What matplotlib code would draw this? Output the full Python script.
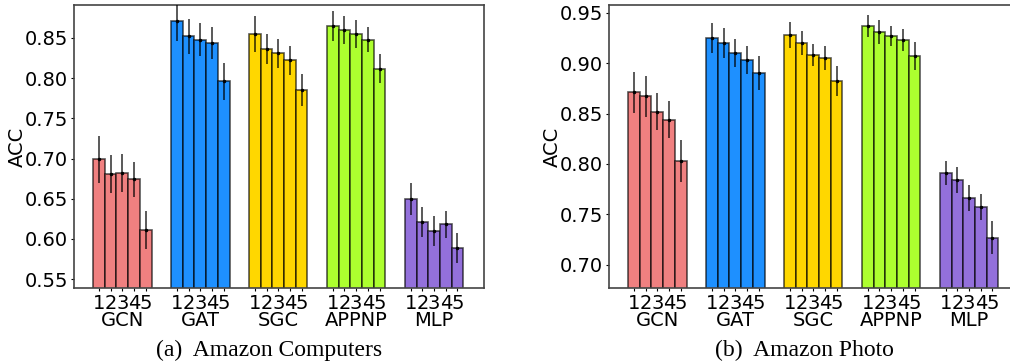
import numpy as np
import matplotlib
matplotlib.use("Agg")
import matplotlib.pyplot as plt
import matplotlib.transforms as mtransforms

models = ["GCN", "GAT", "SGC", "APPNP", "MLP"]
layers = ["1", "2", "3", "4", "5"]
colors = ["#F08080", "#1E90FF", "#FFD700", "#ADFF2F", "#9370DB"]

# Amazon Computers
comp_acc = [
    [0.699, 0.681, 0.682, 0.674, 0.611],
    [0.871, 0.852, 0.848, 0.844, 0.796],
    [0.855, 0.836, 0.831, 0.822, 0.785],
    [0.865, 0.860, 0.855, 0.848, 0.812],
    [0.650, 0.621, 0.610, 0.618, 0.589],
]
comp_err = [
    [0.029, 0.024, 0.024, 0.022, 0.024],
    [0.025, 0.022, 0.021, 0.020, 0.023],
    [0.022, 0.019, 0.018, 0.018, 0.020],
    [0.019, 0.017, 0.017, 0.016, 0.018],
    [0.020, 0.019, 0.019, 0.017, 0.019],
]

# Amazon Photo
photo_acc = [
    [0.871, 0.867, 0.852, 0.844, 0.803],
    [0.925, 0.920, 0.910, 0.903, 0.890],
    [0.928, 0.920, 0.908, 0.905, 0.882],
    [0.937, 0.931, 0.927, 0.923, 0.907],
    [0.791, 0.784, 0.766, 0.757, 0.727],
]
photo_err = [
    [0.020, 0.020, 0.018, 0.018, 0.021],
    [0.015, 0.015, 0.014, 0.014, 0.017],
    [0.013, 0.012, 0.011, 0.012, 0.015],
    [0.011, 0.012, 0.010, 0.011, 0.014],
    [0.012, 0.013, 0.013, 0.013, 0.016],
]

bar_w = 0.15
fs = 14

fig = plt.figure(figsize=(10.1, 3.64), dpi=100)
ax1 = fig.add_axes([74 / 1010, 76 / 364, 410 / 1010, 283 / 364])
ax2 = fig.add_axes([609 / 1010, 76 / 364, 410 / 1010, 283 / 364])


def draw(ax, acc, err, ylim, yticks):
    xt = []
    for g in range(len(models)):
        xs = g + (np.arange(len(layers)) - 2) * bar_w
        ax.bar(xs, acc[g], width=bar_w, color=colors[g],
               edgecolor=(0, 0, 0, 0.65), linewidth=1.2, zorder=2)
        ax.errorbar(xs, acc[g], yerr=err[g], fmt=".", color="black",
                    ms=3, elinewidth=1.3, ecolor=(0, 0, 0, 0.7),
                    capsize=0, zorder=3)
        xt.extend(xs)
    ax.set_xticks(xt)
    ax.set_xticklabels(layers * len(models), fontsize=fs)
    ax.tick_params(axis="x", length=2.5, pad=1.5)
    ax.tick_params(axis="y", length=2.5, labelsize=fs, pad=2)
    trans = mtransforms.blended_transform_factory(ax.transData, ax.transAxes)
    for g, name in enumerate(models):
        ax.text(g, -0.115, name, transform=trans, ha="center", va="center",
                fontsize=fs)
    ax.set_xlim(-0.62, 4.64)
    ax.set_ylim(*ylim)
    ax.set_yticks(yticks)
    ax.set_ylabel("ACC", fontsize=fs)
    ax.yaxis.set_label_coords(-0.115, 0.5)
    for s in ax.spines.values():
        s.set_color("#444444")
        s.set_linewidth(1.2)


draw(ax1, comp_acc, comp_err, (0.539, 0.891),
     [0.55, 0.60, 0.65, 0.70, 0.75, 0.80, 0.85])
draw(ax2, photo_acc, photo_err, (0.677, 0.9576),
     [0.70, 0.75, 0.80, 0.85, 0.90, 0.95])

cap = dict(fontsize=17, family=["Liberation Serif", "DejaVu Serif"],
           ha="center", va="center")
fig.text(269 / 1010, 14 / 364, "(a)  Amazon Computers", **cap)
fig.text(804 / 1010, 14 / 364, "(b)  Amazon Photo", **cap)

fig.savefig("out.png", dpi=100)
